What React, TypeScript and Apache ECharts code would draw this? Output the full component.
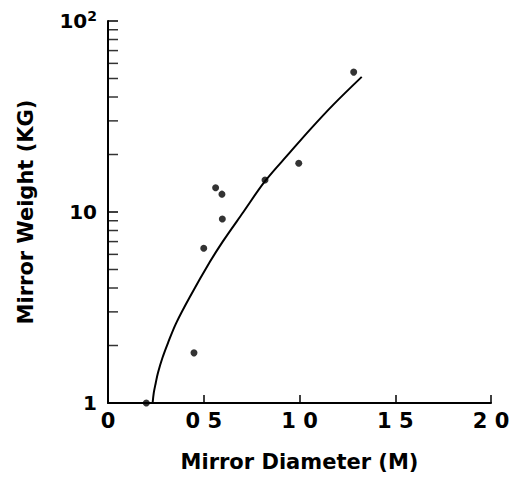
import React, { useEffect, useRef } from "react";
import * as echarts from "echarts";

const xTicks = [0, 0.5, 1.0, 1.5, 2.0];
const xTickLabels = ["0", "0 5", "1 0", "1 5", "2 0"];
const yTickValues = [1, 10, 100];
const yMinorTicks = [2, 3, 4, 5, 6, 7, 8, 9, 20, 30, 40, 50, 60, 70, 80, 90];

const pointDiameter = [0.2, 0.449, 0.5, 0.562, 0.595, 0.597, 0.82, 0.996, 1.283];
const pointWeight = [1.0, 1.83, 6.46, 13.4, 12.4, 9.2, 14.7, 18.0, 54.0];

const curveDiameter = [0.233, 0.239, 0.249, 0.261, 0.284, 0.313, 0.356, 0.428, 0.533, 0.599, 0.707, 0.82, 0.95, 1.055, 1.177, 1.325];
const curveWeight = [1.0, 1.13, 1.27, 1.44, 1.72, 2.06, 2.62, 3.6, 5.5, 7.0, 10.0, 14.5, 20.5, 27.0, 36.5, 51.0];

const FONT = "DejaVu Sans";

export default function App() {
  const ref = useRef<HTMLDivElement>(null);
  useEffect(() => {
    if (!ref.current) return;
    const chart = echarts.init(ref.current, null, { renderer: "svg" });
    chart.setOption({
      animation: false,
      backgroundColor: "#ffffff",
      grid: { left: 108, right: 19, top: 21, bottom: 78, containLabel: false, outerBoundsMode: "none" },
      xAxis: {
        type: "value",
        min: 0,
        max: 2,
        interval: 0.5,
        name: "Mirror Diameter (M)",
        nameLocation: "middle",
        nameGap: 48,
        nameTextStyle: { fontFamily: FONT, fontWeight: "bold", fontSize: 21, color: "#000" },
        axisLine: { show: true, onZero: false, lineStyle: { color: "#000", width: 2 } },
        axisTick: { show: true, inside: true, length: 8, lineStyle: { color: "#000", width: 1.5 } },
        splitLine: { show: false },
        axisLabel: {
          margin: 7,
          fontFamily: FONT,
          fontWeight: "bold",
          fontSize: 21,
          color: "#000",
          formatter: (v: number) => {
            const i = xTicks.findIndex((t) => Math.abs(t - v) < 1e-6);
            return i >= 0 ? xTickLabels[i] : "";
          },
        },
      },
      yAxis: {
        type: "log",
        logBase: 10,
        min: 1,
        max: 100,
        name: "Mirror Weight (KG)",
        nameLocation: "middle",
        nameGap: 72,
        nameRotate: 90,
        nameTextStyle: { fontFamily: FONT, fontWeight: "bold", fontSize: 21, color: "#000" },
        axisLine: { show: true, onZero: false, lineStyle: { color: "#000", width: 2 } },
        axisTick: { show: true, inside: true, length: 10, lineStyle: { color: "#000", width: 1.5 } },
        minorTick: { show: false },
        splitLine: { show: false },
        axisLabel: {
          margin: 11,
          fontFamily: FONT,
          fontWeight: "bold",
          fontSize: 20,
          color: "#000",
          formatter: (v: number) => {
            if (Math.abs(v - yTickValues[2]) < 1e-6) return "10{sup|2}";
            if (Math.abs(v - yTickValues[1]) < 1e-6) return "10";
            if (Math.abs(v - yTickValues[0]) < 1e-6) return "1";
            return "";
          },
          rich: {
            sup: { fontFamily: FONT, fontWeight: "bold", fontSize: 14, color: "#000", verticalAlign: "top", padding: [0, 0, 10, 0] },
          },
        },
      },
      series: [
        {
          type: "scatter",
          name: "minor",
          data: yMinorTicks.map((v) => [0, v]),
          symbol: "rect",
          symbolSize: [10, 1.5],
          symbolOffset: [5, 0],
          itemStyle: { color: "#000" },
          silent: true,
          clip: false,
          z: 5,
        },
        {
          type: "line",
          data: curveDiameter.map((d, i) => [d, curveWeight[i]]),
          smooth: 0.35,
          showSymbol: false,
          lineStyle: { color: "#000", width: 2 },
          z: 3,
        },
        {
          type: "scatter",
          data: pointDiameter.map((d, i) => [d, pointWeight[i]]),
          symbol: "circle",
          symbolSize: 7,
          itemStyle: { color: "#000" },
          clip: false,
          z: 4,
        },
      ],
    });
    return () => chart.dispose();
  }, []);
  return <div ref={ref} style={{ width: 510, height: 481, position: "fixed", left: 0, top: 0 }} />;
}
